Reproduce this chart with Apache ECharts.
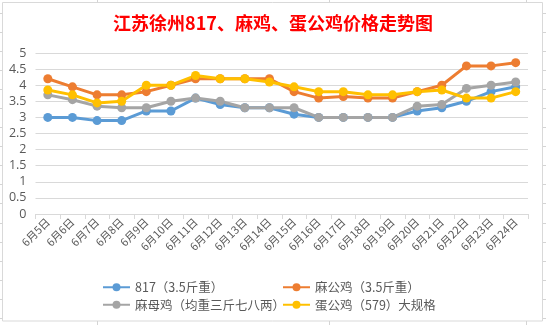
<!DOCTYPE html>
<html>
<head>
<meta charset="utf-8">
<script src="https://cdn.jsdelivr.net/npm/echarts@6/dist/echarts.min.js"></script>
<style>
html,body{margin:0;padding:0;background:#fff;}
#c{width:546px;height:325px;}
</style>
</head>
<body>
<div id="c"></div>
<script>
const titleText = '江苏徐州817、麻鸡、蛋公鸡价格走势图';
const categories = ['6月5日','6月6日','6月7日','6月8日','6月9日','6月10日','6月11日','6月12日','6月13日','6月14日','6月15日','6月16日','6月17日','6月18日','6月19日','6月20日','6月21日','6月22日','6月23日','6月24日'];
const seriesNames = ['817（3.5斤重）','麻公鸡（3.5斤重）','麻母鸡（均重三斤七八两）','蛋公鸡（579）大规格'];
const s817 =   [3.0, 3.0, 2.9, 2.9, 3.2, 3.2, 3.6, 3.4, 3.3, 3.3, 3.1, 3.0, 3.0, 3.0, 3.0, 3.2, 3.3, 3.5, 3.8, 3.95];
const maGong = [4.2, 3.95, 3.7, 3.7, 3.8, 4.0, 4.2, 4.2, 4.2, 4.2, 3.8, 3.6, 3.65, 3.6, 3.6, 3.8, 4.0, 4.6, 4.6, 4.7];
const maMu =   [3.7, 3.55, 3.35, 3.3, 3.3, 3.5, 3.6, 3.5, 3.3, 3.3, 3.3, 3.0, 3.0, 3.0, 3.0, 3.35, 3.4, 3.9, 4.0, 4.1];
const danGong =[3.85, 3.7, 3.45, 3.5, 4.0, 4.0, 4.3, 4.2, 4.2, 4.1, 3.95, 3.8, 3.8, 3.7, 3.7, 3.8, 3.85, 3.6, 3.6, 3.8];
const colors = ['#5B9BD5','#ED7D31','#A5A5A5','#FFC000'];
const yTicks = {min:0, max:5, interval:0.5};

const chart = echarts.init(document.getElementById('c'));
const font = '"Noto Sans CJK SC", "Noto Sans", sans-serif';

// spreadsheet gridline stubs outside the chart box
const gfx = [];
gfx.push({type:'rect', shape:{x:2.5,y:2.5,width:540,height:318.5}, style:{fill:'#fff', stroke:'#d9d9d9', lineWidth:1}, z:-10});
for (let y = 12.5; y < 325; y += 19.1) {
  gfx.push({type:'line', shape:{x1:0,y1:Math.round(y)+0.5,x2:2.5,y2:Math.round(y)+0.5}, style:{stroke:'#d4d4d4',lineWidth:1}, z:-10});
  gfx.push({type:'line', shape:{x1:543,y1:Math.round(y)+0.5,x2:546,y2:Math.round(y)+0.5}, style:{stroke:'#d4d4d4',lineWidth:1}, z:-10});
}
[97, 329, 526].forEach(x => {
  gfx.push({type:'line', shape:{x1:x+0.5,y1:0,x2:x+0.5,y2:2.5}, style:{stroke:'#d4d4d4',lineWidth:1}, z:-10});
  gfx.push({type:'line', shape:{x1:x+0.5,y1:321,x2:x+0.5,y2:325}, style:{stroke:'#d4d4d4',lineWidth:1}, z:-10});
});

const dataArr = [s817, maGong, maMu, danGong];
chart.setOption({
  animation:false,
  backgroundColor:'#fff',
  color: colors,
  graphic: gfx,
  title:{
    text:titleText, left:'center', top:9,
    textStyle:{color:'#FF0000', fontSize:18, fontWeight:'bold', fontFamily:font}
  },
  grid:{left:35.5, right:18, top:53, bottom:111, containLabel:false},
  legend:[
    {data:[seriesNames[0], seriesNames[2]], orient:'vertical', left:97, top:276, itemWidth:27, itemHeight:10, itemGap:5,
     textStyle:{color:'#595959', fontSize:12.5, fontFamily:font}},
    {data:[seriesNames[1], seriesNames[3]], orient:'vertical', left:277, top:276, itemWidth:27, itemHeight:10, itemGap:5,
     textStyle:{color:'#595959', fontSize:12.5, fontFamily:font}}
  ],
  xAxis:{
    type:'category', data:categories, boundaryGap:true,
    axisLine:{lineStyle:{color:'#d9d9d9', width:1}},
    axisTick:{show:true, length:5, lineStyle:{color:'#d9d9d9'}},
    axisLabel:{rotate:45, color:'#595959', fontSize:11, fontFamily:font, margin:6, interval:0}
  },
  yAxis:{
    type:'value', min:yTicks.min, max:yTicks.max, interval:yTicks.interval,
    axisLine:{show:false}, axisTick:{show:false},
    axisLabel:{color:'#595959', fontSize:12.5, fontFamily:'"Open Sans", sans-serif', margin:9},
    splitLine:{lineStyle:{color:'#d9d9d9', width:1}}
  },
  series: seriesNames.map((n,i)=>({
    name:n, type:'line', data:dataArr[i],
    symbol:'circle', symbolSize:9,
    lineStyle:{width:3, color:colors[i]},
    itemStyle:{color:colors[i]}
  }))
});
</script>
</body>
</html>
